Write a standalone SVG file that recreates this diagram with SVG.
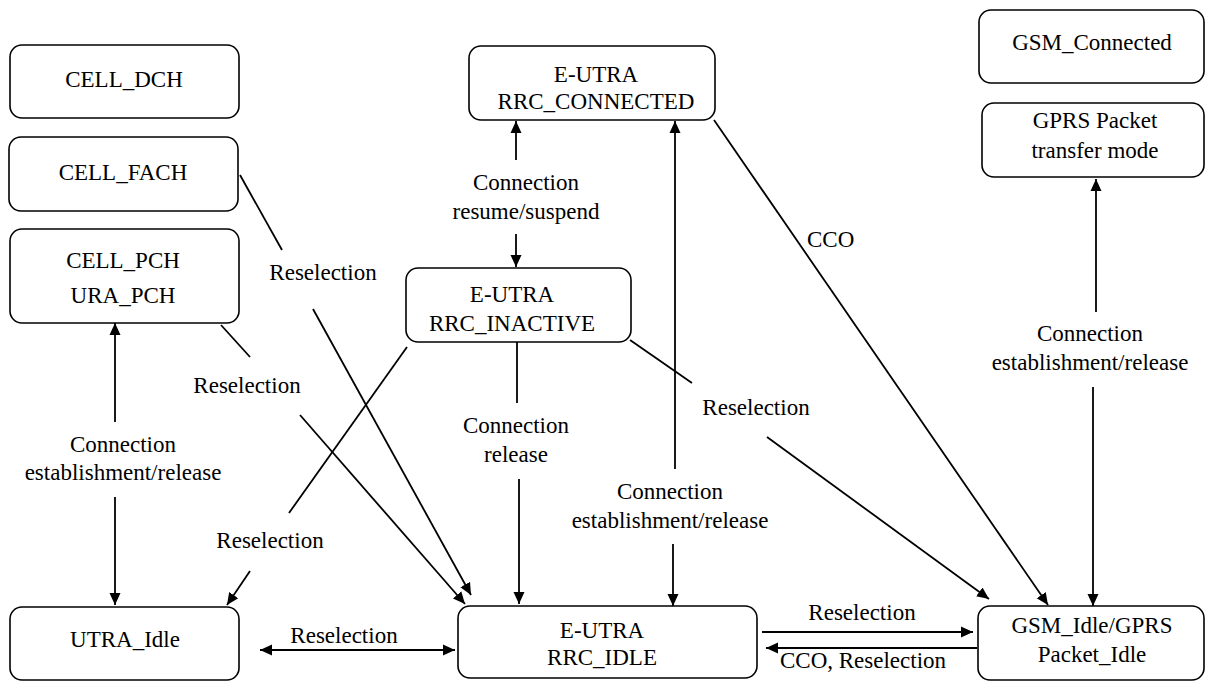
<svg xmlns="http://www.w3.org/2000/svg" width="1205" height="682" viewBox="0 0 1205 682">
<style>
.box{fill:#fff;stroke:#000;stroke-width:1.6}
text{font-family:'Liberation Serif','Times New Roman','DejaVu Serif',serif;font-size:23px;fill:#000;text-anchor:middle}
.l{stroke:#000;stroke-width:1.8;fill:none}
.a{stroke:#000;stroke-width:1.8;fill:none;marker-end:url(#ah)}
</style>
<defs>
<marker id="ah" markerUnits="userSpaceOnUse" markerWidth="14" markerHeight="14" refX="12" refY="6" orient="auto-start-reverse">
<path d="M0,0.5 L12,6 L0,11.5 Z" fill="#000"/>
</marker>
</defs>
<rect width="1205" height="682" fill="#fff"/>
<g id="connectors">
<line class="l" x1="240" y1="175" x2="282" y2="250"/>
<line class="a" x1="313" y1="309" x2="471" y2="595"/>
<line class="l" x1="221" y1="325" x2="250" y2="357"/>
<line class="a" x1="300" y1="415" x2="465" y2="604"/>
<line class="a" x1="115" y1="422" x2="115" y2="323"/>
<line class="a" x1="115" y1="497" x2="115" y2="605"/>
<line class="l" x1="407" y1="347" x2="289" y2="513"/>
<line class="a" x1="250" y1="571" x2="227" y2="605"/>
<line class="a" x1="260" y1="650" x2="455" y2="650" marker-start="url(#ah)"/>
<line class="a" x1="516" y1="160" x2="516" y2="121"/>
<line class="a" x1="516" y1="234" x2="516" y2="267"/>
<line class="l" x1="517" y1="341" x2="517" y2="403"/>
<line class="a" x1="519" y1="479" x2="519" y2="604"/>
<line class="a" x1="675" y1="469" x2="675" y2="121"/>
<line class="a" x1="673" y1="544" x2="673" y2="606"/>
<line class="l" x1="630" y1="340" x2="692" y2="383"/>
<line class="a" x1="767" y1="437" x2="989" y2="599"/>
<line class="a" x1="714" y1="120" x2="1048" y2="605"/>
<line class="a" x1="1096" y1="312" x2="1096" y2="179"/>
<line class="a" x1="1093" y1="387" x2="1093" y2="606"/>
<line class="a" x1="762" y1="632" x2="973" y2="632"/>
<line class="a" x1="977" y1="648" x2="766" y2="648"/>
<text x="323" y="280">Reselection</text>
<text x="247" y="393">Reselection</text>
<text x="123" y="452">Connection</text>
<text x="123" y="480">establishment/release</text>
<text x="270" y="548">Reselection</text>
<text x="344" y="643">Reselection</text>
<text x="526" y="190">Connection</text>
<text x="526" y="219">resume/suspend</text>
<text x="516" y="433">Connection</text>
<text x="516" y="462">release</text>
<text x="670" y="499">Connection</text>
<text x="670" y="528">establishment/release</text>
<text x="756" y="415">Reselection</text>
<text x="807" y="247" text-anchor="start" style="text-anchor:start">CCO</text>
<text x="1090" y="341">Connection</text>
<text x="1090" y="370">establishment/release</text>
<text x="862" y="620">Reselection</text>
<text x="863" y="668">CCO, Reselection</text>
</g>
<g id="cell_dch"><rect class="box" x="10" y="45" width="229" height="73" rx="12"/><text x="124" y="87">CELL_DCH</text></g>
<g id="cell_fach"><rect class="box" x="9" y="137" width="229" height="74" rx="12"/><text x="123" y="180">CELL_FACH</text></g>
<g id="cell_pch"><rect class="box" x="10" y="229" width="229" height="94" rx="12"/><text x="123" y="268">CELL_PCH</text><text x="123" y="303">URA_PCH</text></g>
<g id="utra_idle"><rect class="box" x="10" y="607" width="229" height="73" rx="12"/><text x="125" y="647">UTRA_Idle</text></g>
<g id="rrc_connected"><rect class="box" x="469" y="46" width="246" height="74" rx="12"/><text x="596" y="82">E-UTRA</text><text x="596" y="109">RRC_CONNECTED</text></g>
<g id="rrc_inactive"><rect class="box" x="406" y="268" width="225" height="74" rx="12"/><text x="512" y="302">E-UTRA</text><text x="512" y="331">RRC_INACTIVE</text></g>
<g id="rrc_idle"><rect class="box" x="458" y="606" width="299" height="72" rx="12"/><text x="602" y="638">E-UTRA</text><text x="602" y="665">RRC_IDLE</text></g>
<g id="gsm_connected"><rect class="box" x="979" y="10" width="225" height="73" rx="12"/><text x="1092" y="50">GSM_Connected</text></g>
<g id="gprs_transfer"><rect class="box" x="982" y="103" width="222" height="74" rx="12"/><text x="1095" y="128">GPRS Packet</text><text x="1095" y="158">transfer mode</text></g>
<g id="gsm_idle"><rect class="box" x="978" y="606" width="226" height="74" rx="12"/><text x="1092" y="633">GSM_Idle/GPRS</text><text x="1092" y="662">Packet_Idle</text></g>
</svg>
